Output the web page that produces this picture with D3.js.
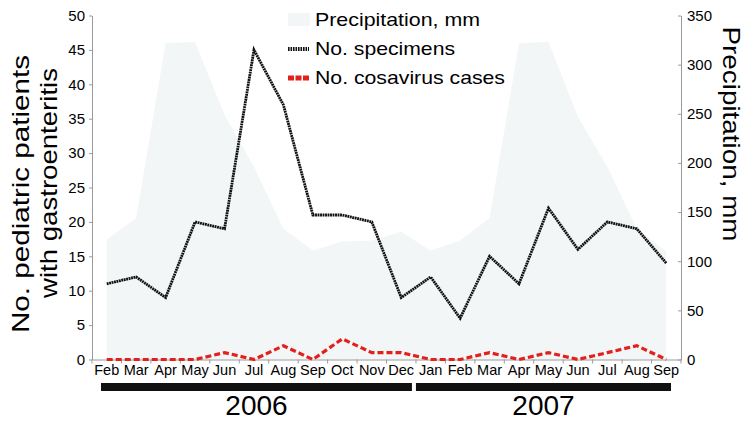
<!DOCTYPE html>
<html>
<head>
<meta charset="utf-8">
<script src="https://cdn.jsdelivr.net/npm/d3@7"></script>
<style>
	body { margin: 0; background: #fff; }
	svg { font-family: "Liberation Sans", Arial, sans-serif; }
</style>
</head>
<body>
<svg id="chart" width="750" height="426"></svg>
<script>
	//chart data
var months = ['Feb', 'Mar', 'Apr', 'May', 'Jun', 'Jul', 'Aug', 'Sep', 'Oct', 'Nov', 'Dec',
	'Jan', 'Feb', 'Mar', 'Apr', 'May', 'Jun', 'Jul', 'Aug', 'Sep'];
var specimens = [11, 12, 9, 20, 19, 45, 37, 21, 21, 20, 9, 12, 6, 15, 11, 22, 16, 20, 19, 14];
var cosavirus = [0, 0, 0, 0, 1, 0, 2, 0, 3, 1, 1, 0, 0, 1, 0, 1, 0, 1, 2, 0];
var precipitation = [122, 144, 322, 323, 249, 196, 133, 111, 120, 121, 130, 111, 121, 144, 322, 323, 247, 196, 133, 110];
var leftTicks = [0, 5, 10, 15, 20, 25, 30, 35, 40, 45, 50];
var rightTicks = [0, 50, 100, 150, 200, 250, 300, 350];
var years = [
	{label: '2006', first: 0, last: 10},
	{label: '2007', first: 11, last: 19}
];

var svg = d3.select('#chart');

var x = d3.scaleBand().domain(d3.range(months.length)).range([92, 681]).padding(0);
var yLeft = d3.scaleLinear().domain([0, 50]).range([359.5, 15.5]);
var yRight = d3.scaleLinear().domain([0, 350]).range([359.5, 15.5]);

function cx(i) { return x(i) + x.bandwidth() / 2; }

var areaColor = '#f3f6f7';

	//precipitation area
var area = d3.area()
	.x(function(d, i) { return cx(i); })
	.y0(yRight(0))
	.y1(function(d) { return yRight(d); });

svg.append('path')
	.datum(precipitation)
	.attr('d', area)
	.attr('fill', areaColor);

	//axes
var axisColor = '#9a9a9a';

var left = svg.append('g')
	.attr('transform', 'translate(92,0)')
	.call(d3.axisLeft(yLeft).tickValues(leftTicks).tickSize(3).tickSizeOuter(0).tickPadding(4));

var right = svg.append('g')
	.attr('transform', 'translate(681,0)')
	.call(d3.axisRight(yRight).tickValues(rightTicks).tickSize(-3).tickSizeOuter(0).tickPadding(6));

var bottom = svg.append('g')
	.attr('transform', 'translate(0,359.5)')
	.call(d3.axisBottom(x).tickFormat(function(i) { return months[i]; }).tickSize(0).tickPadding(5.5));

[left, right, bottom].forEach(function(g) {
	g.select('.domain').attr('stroke', axisColor);
	g.selectAll('.tick line').attr('stroke', axisColor);
	g.selectAll('.tick text').attr('fill', '#000').style('font-family', '"Liberation Sans", Arial, sans-serif');
});
left.selectAll('.tick text').style('font-size', '15px');
right.selectAll('.tick text').style('font-size', '15px');
bottom.selectAll('.tick text').style('font-size', '14.5px');

	//month boundary ticks
bottom.selectAll('.boundary')
	.data(d3.range(months.length + 1))
	.enter().append('line')
	.attr('class', 'boundary')
	.attr('x1', function(i) { return i < months.length ? x(i) : x.range()[1]; })
	.attr('x2', function(i) { return i < months.length ? x(i) : x.range()[1]; })
	.attr('y1', 0)
	.attr('y2', 4)
	.attr('stroke', axisColor);

	//lines
var line = function(scale) {
	return d3.line()
		.x(function(d, i) { return cx(i); })
		.y(function(d) { return scale(d); });
};

svg.append('path')
	.datum(specimens)
	.attr('d', line(yLeft))
	.attr('fill', 'none')
	.attr('stroke', '#111')
	.attr('stroke-width', 2.8)
	.attr('stroke-dasharray', '1.9,0.6');

svg.append('path')
	.datum(cosavirus)
	.attr('d', line(yLeft))
	.attr('fill', 'none')
	.attr('stroke', '#e3211c')
	.attr('stroke-width', 3.2)
	.attr('stroke-dasharray', '6,3');

	//year bars
var yearGroup = svg.append('g');
years.forEach(function(yr, k) {
	var x0 = k === 0 ? x(yr.first) + 9 : x(yr.first);
	var x1 = k === 0 ? x(yr.last) + x.bandwidth() - 4 : x(yr.last) + x.bandwidth() - 10;
	yearGroup.append('rect')
		.attr('x', x0).attr('y', 383)
		.attr('width', x1 - x0).attr('height', 8)
		.attr('fill', '#111');
	yearGroup.append('text')
		.attr('x', (x0 + x1) / 2).attr('y', 415)
		.attr('text-anchor', 'middle')
		.style('font-size', '28px')
		.text(yr.label);
});

	//axis titles
svg.append('text')
	.attr('transform', 'translate(29,194) rotate(-90)')
	.attr('text-anchor', 'middle')
	.attr('textLength', 278).attr('lengthAdjust', 'spacingAndGlyphs')
	.style('font-size', '24px')
	.text('No. pediatric patients');

svg.append('text')
	.attr('transform', 'translate(57,183) rotate(-90)')
	.attr('text-anchor', 'middle')
	.attr('textLength', 230).attr('lengthAdjust', 'spacingAndGlyphs')
	.style('font-size', '24px')
	.text('with gastroenteritis');

svg.append('text')
	.attr('transform', 'translate(723,134) rotate(90)')
	.attr('text-anchor', 'middle')
	.attr('textLength', 215).attr('lengthAdjust', 'spacingAndGlyphs')
	.style('font-size', '24px')
	.text('Precipitation, mm');

	//legend
var legend = svg.append('g').attr('transform', 'translate(288,0)');
var legendItems = [
	{label: 'Precipitation, mm', y: 26, width: 165},
	{label: 'No. specimens', y: 55, width: 140},
	{label: 'No. cosavirus cases', y: 84, width: 190}
];

legend.append('rect')
	.attr('x', 0).attr('y', 13).attr('width', 22).attr('height', 13)
	.attr('fill', areaColor);
legend.append('line')
	.attr('x1', 0).attr('x2', 21).attr('y1', 49).attr('y2', 49)
	.attr('stroke', '#111').attr('stroke-width', 4).attr('stroke-dasharray', '1.6,0.9');
legend.append('line')
	.attr('x1', 0).attr('x2', 21).attr('y1', 78).attr('y2', 78)
	.attr('stroke', '#e3211c').attr('stroke-width', 5).attr('stroke-dasharray', '6,1.5');

legend.selectAll('.legend-label')
	.data(legendItems)
	.enter().append('text')
	.attr('class', 'legend-label')
	.attr('x', 27)
	.attr('y', function(d) { return d.y; })
	.attr('textLength', function(d) { return d.width; })
	.attr('lengthAdjust', 'spacingAndGlyphs')
	.style('font-size', '18.5px')
	.text(function(d) { return d.label; });
</script>
</body>
</html>
